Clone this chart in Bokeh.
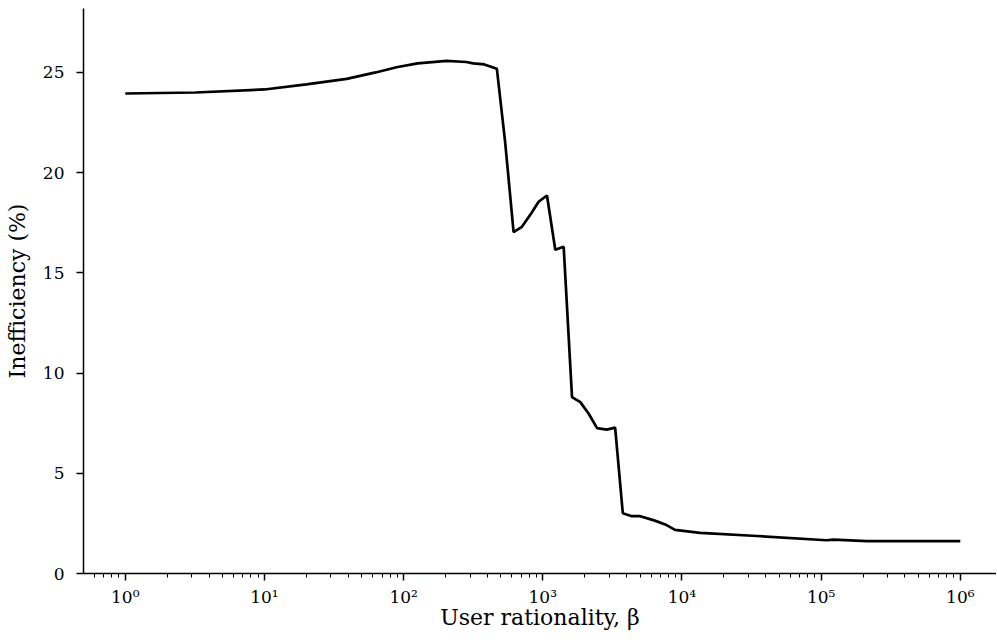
from bokeh.plotting import figure
from bokeh.models import Range1d, FixedTicker, CustomJSTickFormatter
from bokeh.embed import file_html
from bokeh.resources import INLINE

# Data
beta = [1, 3.2, 10, 20, 39, 63, 89, 126, 204, 282, 316, 380, 468, 537, 617,
        708, 832, 933, 1072, 1230, 1413, 1622, 1862, 2138, 2455, 2884, 3311,
        3758, 4365, 5012, 6310, 7586, 8913, 13490, 34670, 109650, 123030,
        213800, 1000000]
inefficiency = [23.95, 24.0, 24.15, 24.4, 24.68, 25.0, 25.26, 25.45, 25.58,
                25.52, 25.45, 25.4, 25.18, 21.5, 17.03, 17.3, 18.0, 18.55,
                18.86, 16.15, 16.3, 8.8, 8.55, 7.97, 7.25, 7.18, 7.28, 3.01,
                2.86, 2.86, 2.65, 2.45, 2.18, 2.03, 1.87, 1.66, 1.69, 1.62,
                1.62]

x_major = [1, 10, 100, 1000, 10000, 100000, 1000000]
y_major = [0, 5, 10, 15, 20, 25]

FONT = "DejaVu Serif"

p = figure(
    x_axis_type="log",
    frame_width=913, frame_height=565,
    min_border_left=83, min_border_right=0, min_border_top=8, min_border_bottom=40,
    output_backend="svg", toolbar_location=None,
    x_range=Range1d(0.5012, 1.82e6), y_range=Range1d(0, 28.19),
    background_fill_color="white", border_fill_color="white",
)
p.outline_line_color = None
p.grid.visible = False

p.line(beta, inefficiency, line_color="black", line_width=2.7)

minor = []
for d in range(-1, 7):
    for k in range(2, 10):
        v = k * 10 ** d
        if 0.5012 < v < 1.82e6:
            minor.append(v)

xa = p.xaxis[0]
xa.ticker = FixedTicker(ticks=x_major, minor_ticks=minor)
xa.formatter = CustomJSTickFormatter(code="""
const sup = {'0':'\u2070','1':'\u00b9','2':'\u00b2','3':'\u00b3','4':'\u2074',
             '5':'\u2075','6':'\u2076','7':'\u2077','8':'\u2078','9':'\u2079','-':'\u207b'};
const e = Math.round(Math.log10(tick));
return '10' + String(e).split('').map(c => sup[c]).join('');
""")
xa.axis_label = "User rationality, β"

ya = p.yaxis[0]
ya.ticker = FixedTicker(ticks=y_major, minor_ticks=[])
ya.axis_label = "Inefficiency (%)"

for ax in (xa, ya):
    ax.axis_line_width = 1.5
    ax.axis_line_color = "black"
    ax.major_tick_line_width = 1.5
    ax.major_tick_line_color = "black"
    ax.minor_tick_line_width = 1
    ax.minor_tick_line_color = "black"
    ax.major_tick_in = 0
    ax.major_tick_out = 7
    ax.minor_tick_in = 0
    ax.minor_tick_out = 4
    ax.major_label_text_font = FONT
    ax.major_label_text_font_size = "17px"
    ax.major_label_text_color = "black"
    ax.axis_label_text_font = FONT
    ax.axis_label_text_font_size = "22px"
    ax.axis_label_text_font_style = "normal"
    ax.axis_label_text_color = "black"

xa.major_label_standoff = 6
xa.axis_label_standoff = -5
ya.major_label_standoff = 12
ya.axis_label_standoff = 10

open("out.html", "w").write(file_html(p, INLINE))
